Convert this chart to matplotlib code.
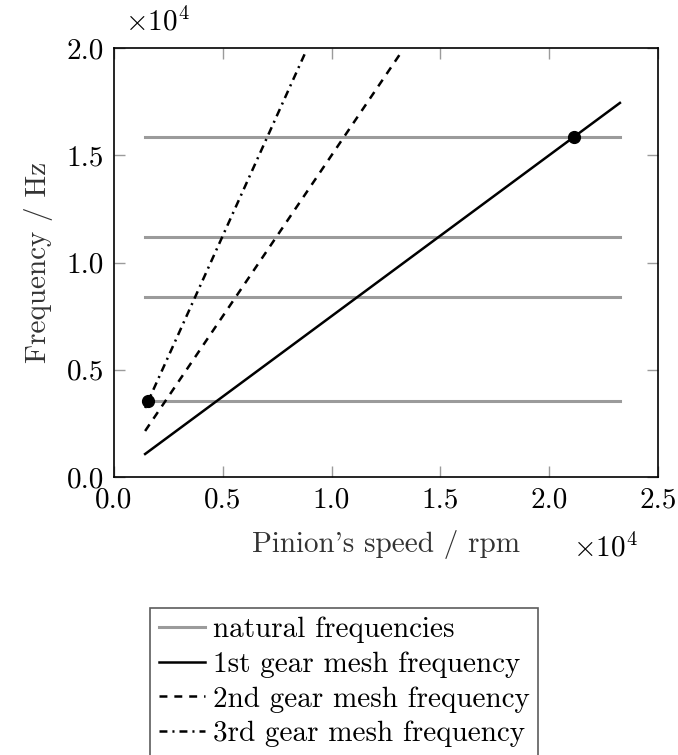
import matplotlib
matplotlib.use("Agg")
import matplotlib.pyplot as plt

plt.rcParams['font.family'] = 'serif'
plt.rcParams['font.serif'] = ['cmr10']
plt.rcParams['mathtext.fontset'] = 'cm'
plt.rcParams['axes.unicode_minus'] = False
plt.rcParams['axes.formatter.use_mathtext'] = True
plt.rcParams['lines.scale_dashes'] = False

# Data (rpm, Hz)
natural_freqs = [3560, 8410, 11180, 15840]
speed_range = [1430, 23250]
gm1_speed = [1430, 23250]
gm1_freq = [1072, 17440]
gm2_speed = [1430, 13150]
gm2_freq = [2145, 19725]
gm3_speed = [1430, 8830]
gm3_freq = [3218, 19868]
marker_speed = [1582, 21130]
marker_freq = [3560, 15850]

xticks = [0, 5000, 10000, 15000, 20000, 25000]
xticklabels = ['0.0', '0.5', '1.0', '1.5', '2.0', '2.5']
yticks = [0, 5000, 10000, 15000, 20000]
yticklabels = ['0.0', '0.5', '1.0', '1.5', '2.0']

FS = 21
GRAY = '#9b9b9b'
LW = 1.8

fig = plt.figure(figsize=(6.78, 7.55), dpi=100)
ax = fig.add_axes([114/678, 1-477/755, (658-114)/678, (477-48)/755])

for i, f in enumerate(natural_freqs):
    ax.plot(speed_range, [f, f], color=GRAY, lw=2.2,
            label='natural frequencies' if i == 0 else None)
ax.plot(gm1_speed, gm1_freq, color='black', lw=LW, label='1st gear mesh frequency')
ax.plot(gm2_speed, gm2_freq, color='black', lw=LW, dashes=(5.7, 5.0),
        label='2nd gear mesh frequency')
ax.plot(gm3_speed, gm3_freq, color='black', lw=LW, dashes=(5.7, 3.6, 1.5, 3.6),
        label='3rd gear mesh frequency')
ax.plot(marker_speed, marker_freq, 'o', color='black', ms=8.5, zorder=5)

ax.set_xlim(0, 25000)
ax.set_ylim(0, 20000)
ax.set_xticks(xticks)
ax.set_xticklabels(xticklabels, fontsize=FS)
ax.set_yticks(yticks)
ax.set_yticklabels(yticklabels, fontsize=FS)
ax.tick_params(direction='in', length=8, width=1, color=GRAY,
               top=True, right=True, pad=7)
for s in ax.spines.values():
    s.set_linewidth(1.2)
    s.set_color('black')

ax.set_xlabel("Pinion's speed / rpm", fontsize=FS, color='#333333', labelpad=12)
ax.set_ylabel("Frequency / Hz", fontsize=FS, color='#333333', labelpad=10)

fig.text(125/678, 1-22/755, r'$\times 10^4$', fontsize=FS, ha='left', va='center')
fig.text(573/678, 1-548/755, r'$\times 10^4$', fontsize=FS, ha='left', va='center')

leg = fig.legend(loc='upper left', bbox_to_anchor=(150/678, 1-608/755),
                 fontsize=FS, frameon=True, fancybox=False, edgecolor='#333333',
                 handlelength=1.6, handletextpad=0.25, borderpad=0.3,
                 labelspacing=0.28, borderaxespad=0.0)
leg.get_frame().set_linewidth(1.2)

fig.savefig('out.png', dpi=100)
